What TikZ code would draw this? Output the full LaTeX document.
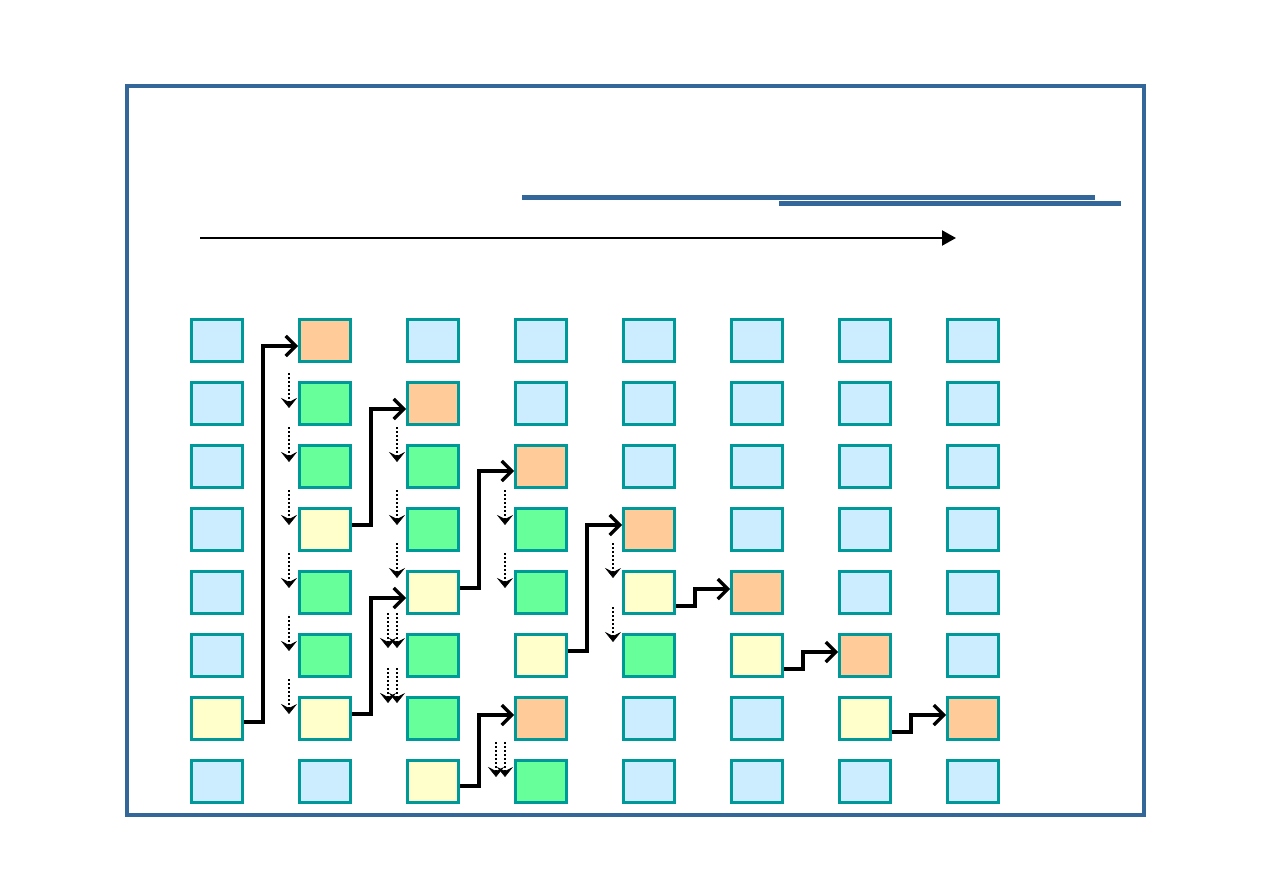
\documentclass[tikz,border=0pt]{standalone}
\usetikzlibrary{arrows.meta,calc}
\definecolor{fillB}{HTML}{CCECFF}
\definecolor{fillO}{HTML}{FFCC99}
\definecolor{fillG}{HTML}{66FF99}
\definecolor{fillY}{HTML}{FFFFCC}
\definecolor{cellborder}{HTML}{009999}
\definecolor{framecol}{HTML}{336699}
\newcommand\mydotar[3]{\draw[dotarr] ($(#1.west)+(#2,#3-35)$) -- ($(#1.west)+(#2,#3)$);}
\tikzset{
  cell/.style={draw=cellborder, line width=3pt, minimum width=51pt, minimum height=42pt, inner sep=0pt, rectangle},
  conn/.style={line width=3.2pt, -{Straight Barb[length=10pt,width=20pt,line width=3.2pt]}},
  dotarr/.style={line width=2.4pt, dash pattern=on 2pt off 2pt, -{Stealth[length=10pt,width=16pt,inset=4pt,line width=0.5pt]}},
  bar/.style={framecol, line width=5pt},
}
\begin{document}
\begin{tikzpicture}[x=1pt,y=-1pt]
\useasboundingbox (0,0) rectangle (1263,893);
\draw[framecol, line width=3.2pt] (127,86) rectangle (1144,815);
\draw[bar] (522,198) -- (1095,198);
\draw[bar] (779,204) -- (1121,204);
\coordinate (ta) at (200,238);
\coordinate (tb) at (956,238);
\draw[line width=2.2pt, -{Triangle[length=14pt,width=15pt]}] (ta) -- (tb);
\foreach \col/\cols in {0/{B,B,B,B,B,B,Y,B},1/{O,G,G,Y,G,G,Y,B},2/{B,O,G,G,Y,G,G,Y},3/{B,B,O,G,G,Y,O,G},4/{B,B,B,O,Y,G,B,B},5/{B,B,B,B,O,Y,B,B},6/{B,B,B,B,B,O,Y,B},7/{B,B,B,B,B,B,O,B}}{
  \foreach \c [count=\r from 0] in \cols {
    \node[cell, fill=fill\c] (c\col\r) at (217+108*\col, 340.5+63*\r) {};
  }
}
% solid connectors
\draw[conn] ($(c06.east)+(0,3.5)$) -- ++(19,0) |- ($(c10.west)+(0,5.5)$);
\draw[conn] ($(c13.east)+(0,-4.5)$) -- ++(19,0) |- ($(c21.west)+(0,5.5)$);
\draw[conn] ($(c16.east)+(0,-4.5)$) -- ++(19,0) |- ($(c24.west)+(0,5.5)$);
\draw[conn] ($(c24.east)+(0,-4.5)$) -- ++(19,0) |- ($(c32.west)+(0,4.5)$);
\draw[conn] ($(c27.east)+(0,4.5)$) -- ++(19,0) |- ($(c36.west)+(0,-3.5)$);
\draw[conn] ($(c35.east)+(0,-4.5)$) -- ++(19,0) |- ($(c43.west)+(0,-4.5)$);
\draw[conn] ($(c44.east)+(0,13.5)$) -- ++(19,0) |- ($(c54.west)+(0,-3.5)$);
\draw[conn] ($(c55.east)+(0,13.5)$) -- ++(19,0) |- ($(c65.west)+(0,-3.5)$);
\draw[conn] ($(c66.east)+(0,13.5)$) -- ++(19,0) |- ($(c76.west)+(0,-3.5)$);
% dotted arrows
\mydotar{c11}{-9}{4.5}
\mydotar{c12}{-9}{-4.5}
\mydotar{c13}{-9}{-4.5}
\mydotar{c14}{-9}{-4.5}
\mydotar{c15}{-9}{-4.5}
\mydotar{c16}{-9}{-4.5}
\mydotar{c22}{-9}{-4.5}
\mydotar{c23}{-9}{-4.5}
\mydotar{c24}{-9}{-14.5}
\mydotar{c25}{-9}{-7.5}
\mydotar{c25}{-18}{-7.5}
\mydotar{c26}{-9}{-15.5}
\mydotar{c26}{-18}{-15.5}
\mydotar{c33}{-9}{-4.5}
\mydotar{c34}{-9}{-4.5}
\mydotar{c37}{-9}{-4.5}
\mydotar{c37}{-18}{-4.5}
\mydotar{c44}{-9}{-14.5}
\mydotar{c45}{-9}{-13.5}
\end{tikzpicture}
\end{document}
